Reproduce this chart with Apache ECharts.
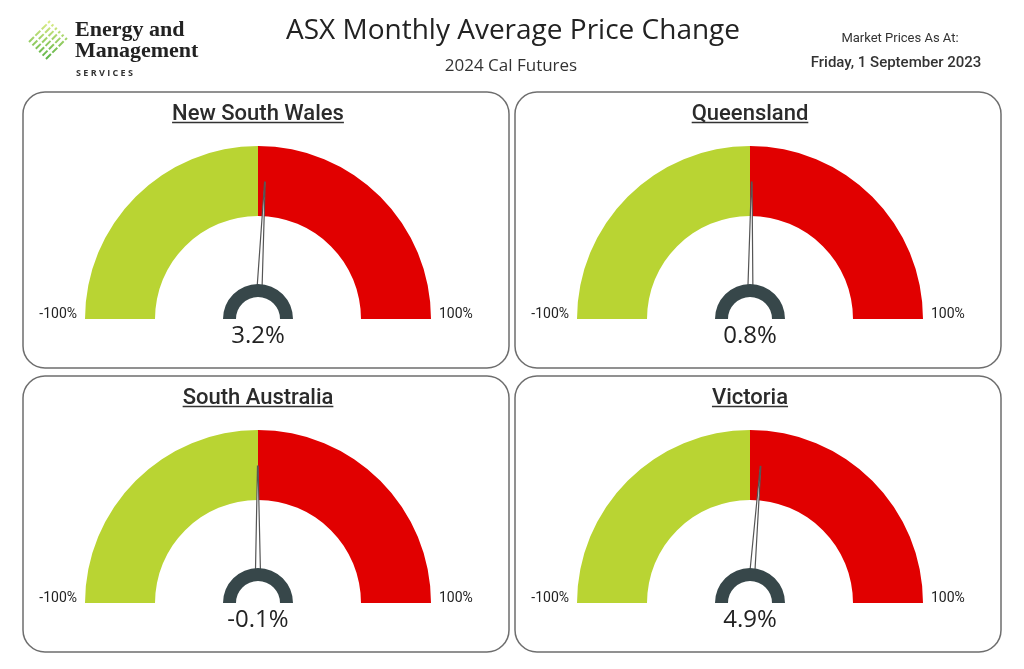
<!DOCTYPE html>
<html>
<head>
<meta charset="utf-8">
<script src="https://cdn.jsdelivr.net/npm/echarts@6/dist/echarts.min.js"></script>
<style>
  html, body { margin: 0; padding: 0; background: #fff; }
  #chart { width: 1024px; height: 669px; }
</style>
</head>
<body>
<div id="chart"></div>
<script>
// values
const regions = ['New South Wales', 'Queensland', 'South Australia', 'Victoria'];
const priceChange = [3.2, 0.8, -0.1, 4.9];
const scaleRange = [-100, 100];
const bandStops = [0.5, 1];
const bandColors = ['#b9d433', '#e10000'];

const chartTitle = 'ASX Monthly Average Price Change';
const chartSubtitle = '2024 Cal Futures';
const asAtLabel = 'Market Prices As At:';
const asAtDate = 'Friday, 1 September 2023';

const centers = [[258, 319], [750, 319], [258, 603], [750, 603]];
const SANS = '"Open Sans", "Noto Sans", sans-serif';
const DIN = 'Roboto, "Noto Sans", sans-serif';
const TITLE_FONT = '500 22px Roboto';

const measureCtx = document.createElement('canvas').getContext('2d');
function textWidth(text, font) {
  measureCtx.font = font;
  return measureCtx.measureText(text).width;
}

const chart = echarts.init(document.getElementById('chart'), null, { renderer: 'canvas' });

const series = [];
const graphic = [];

regions.forEach((name, i) => {
  const [cx, cy] = centers[i];

  // panel frame
  graphic.push({
    type: 'rect',
    shape: { x: cx - 235, y: cy - 227, width: 486, height: 276, r: 22 },
    style: { fill: 'none', stroke: '#6e6e6e', lineWidth: 1.5 },
    z: 0
  });

  // underline for the region name
  const w = textWidth(name, TITLE_FONT);
  graphic.push({
    type: 'line',
    shape: { x1: cx - w / 2, y1: cy - 196.5, x2: cx + w / 2, y2: cy - 196.5 },
    style: { stroke: '#333', lineWidth: 1.6 },
    z: 1
  });

  series.push({
    type: 'gauge',
    center: [cx, cy],
    radius: 173,
    startAngle: 180,
    endAngle: 0,
    min: scaleRange[0],
    max: scaleRange[1],
    splitNumber: 1,
    animation: false,
    axisLine: {
      lineStyle: {
        width: 70,
        color: bandStops.map((s, k) => [s, bandColors[k]])
      }
    },
    axisTick: { show: false },
    splitLine: { show: false, length: 0, distance: 0 },
    axisLabel: {
      distance: -58,
      color: '#222',
      fontFamily: DIN,
      fontSize: 14,
      formatter: v => (v < 0 ? '{l|' : '{r|') + v + '%}',
      rich: {
        l: { width: 50, align: 'right', padding: [0, 0, 10, 0], fontFamily: DIN, fontSize: 14, color: '#222' },
        r: { width: 50, align: 'left', padding: [0, 0, 10, 0], fontFamily: DIN, fontSize: 14, color: '#222' }
      }
    },
    pointer: {
      icon: 'path://M44 0 L56 0 L100 100 L0 100 Z',
      length: 106,
      width: 5,
      offsetCenter: [0, -31],
      itemStyle: { color: '#fff', borderColor: '#555', borderWidth: 1.2 }
    },
    anchor: { show: false },
    title: {
      offsetCenter: [0, -205],
      fontFamily: DIN,
      fontWeight: 500,
      fontSize: 22,
      color: '#2b2b2b'
    },
    detail: {
      offsetCenter: [0, 17],
      fontFamily: SANS,
      fontWeight: 'normal',
      fontSize: 24,
      color: '#222',
      valueAnimation: false,
      formatter: v => v.toFixed(1) + '%'
    },
    data: [{ value: priceChange[i], name }]
  });

  // dark hub
  series.push({
    type: 'gauge',
    center: [cx, cy],
    radius: 35,
    startAngle: 180,
    endAngle: 0,
    animation: false,
    axisLine: { lineStyle: { width: 13, color: [[1, '#37474a']] } },
    axisTick: { show: false },
    splitLine: { show: false },
    axisLabel: { show: false },
    pointer: { show: false },
    anchor: { show: false },
    title: { show: false },
    detail: { show: false },
    data: []
  });
});

// header texts
graphic.push(
  {
    type: 'text', x: 513, y: 31,
    style: { text: chartTitle, font: '28px ' + SANS, fill: '#222', align: 'center', verticalAlign: 'middle' }
  },
  {
    type: 'text', x: 511, y: 66,
    style: { text: chartSubtitle, font: '17px ' + SANS, fill: '#333', align: 'center', verticalAlign: 'middle' }
  },
  {
    type: 'text', x: 900, y: 39,
    style: { text: asAtLabel, font: '13px ' + DIN, fill: '#333', align: 'center', verticalAlign: 'middle' }
  },
  {
    type: 'text', x: 896, y: 63,
    style: { text: asAtDate, font: '500 15px ' + DIN, fill: '#333', align: 'center', verticalAlign: 'middle' }
  }
);

// logo: striped diamond, yellow-green at the top fading to green below
const logoFill = new echarts.graphic.LinearGradient(0, 22, 0, 58, [
  { offset: 0, color: '#dcec86' },
  { offset: 1, color: '#5db447' }
], true);
for (let k = 0; k < 6; k++) {
  const t = (k - 2.5) * 4.8;
  const mx = 48 + t * 0.707;
  const my = 40 + t * 0.707;
  graphic.push({
    type: 'line',
    shape: { x1: mx - 10.5, y1: my + 10.5, x2: mx + 10.5, y2: my - 10.5 },
    style: { stroke: logoFill, lineWidth: 2, lineDash: [7, 2] }
  });
}
graphic.push(
  {
    type: 'text', x: 75, y: 30,
    style: { text: 'Energy and', font: 'bold 22px "Liberation Serif", serif', fill: '#222', verticalAlign: 'middle' }
  },
  {
    type: 'text', x: 75, y: 51,
    style: { text: 'Management', font: 'bold 22px "Liberation Serif", serif', fill: '#222', verticalAlign: 'middle' }
  },
  {
    type: 'text', x: 76, y: 73,
    style: { text: 'S E R V I C E S', font: 'bold 9px ' + SANS, fill: '#333', verticalAlign: 'middle' }
  }
);

chart.setOption({
  backgroundColor: '#fff',
  animation: false,
  graphic: graphic,
  series: series
});
</script>
</body>
</html>
